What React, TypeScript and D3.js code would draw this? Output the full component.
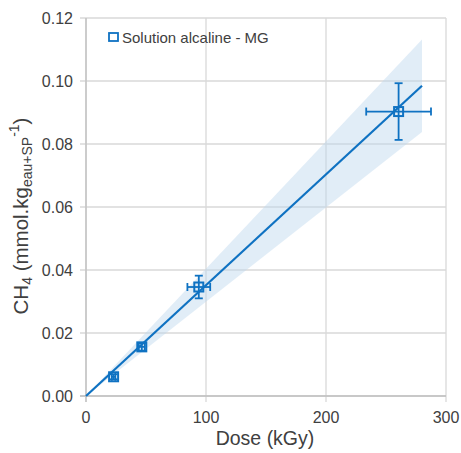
import React from "react";
import * as d3 from "d3";

const doses = [23, 46.5, 94, 260.5];
const ch4 = [0.0061, 0.0156, 0.0346, 0.0903];
const doseErr = [1.5, 2.5, 9.5, 27];
const ch4Err = [0.0008, 0.0012, 0.0036, 0.009];
const fitX = [0, 280];
const fitY = [0, 0.0985];
const bandUpper = [0, 0.1132];
const bandLower = [0, 0.0838];
const xTicks = [0, 100, 200, 300];
const yTicks = [0, 0.02, 0.04, 0.06, 0.08, 0.1, 0.12];
const legendLabel = "Solution alcaline - MG";

const W = 461, H = 453;
const left = 86, right = 446, top = 18, bottom = 396;
const blue = "#0F72C2";
const font = "Liberation Sans, Arial, sans-serif";
const txt = "#404040";

export default function App() {
  const x = d3.scaleLinear().domain([0, 300]).range([left, right]);
  const y = d3.scaleLinear().domain([0, 0.12]).range([bottom, top]);
  const band = d3.area<number>()
    .x((_, i) => x(fitX[i]))
    .y0((_, i) => y(bandLower[i]))
    .y1((_, i) => y(bandUpper[i]));
  const line = d3.line<number>().x((_, i) => x(fitX[i])).y((d) => y(d));
  const cap = 4;
  const ms = 9;
  return (
    <svg width={W} height={H} style={{ position: "absolute", left: 0, top: 0, background: "#fff" }} fontFamily={font}>
      {yTicks.map((t) => (
        <line key={"gy" + t} x1={left - 6} x2={right} y1={y(t)} y2={y(t)} stroke="#D9D9D9" strokeWidth={1.3} />
      ))}
      {xTicks.map((t) => (
        <line key={"gx" + t} x1={x(t)} x2={x(t)} y1={top} y2={bottom + 6} stroke="#D9D9D9" strokeWidth={1.3} />
      ))}
      <line x1={left} x2={left} y1={top} y2={bottom + 6} stroke="#BFBFBF" strokeWidth={1.3} />
      <line x1={left - 6} x2={right} y1={bottom} y2={bottom} stroke="#BFBFBF" strokeWidth={1.3} />
      <path d={band(fitX) || ""} fill="#BDD7EE" fillOpacity={0.45} />
      <path d={line(fitY) || ""} stroke={blue} strokeWidth={2.2} fill="none" />
      {doses.map((d, i) => {
        const cx = x(d), cy = y(ch4[i]);
        const x0 = x(d - doseErr[i]), x1 = x(d + doseErr[i]);
        const y0 = y(ch4[i] - ch4Err[i]), y1 = y(ch4[i] + ch4Err[i]);
        return (
          <g key={i} stroke={blue} strokeWidth={1.8}>
            <line x1={x0} x2={x1} y1={cy} y2={cy} />
            <line x1={x0} x2={x0} y1={cy - cap} y2={cy + cap} />
            <line x1={x1} x2={x1} y1={cy - cap} y2={cy + cap} />
            <line x1={cx} x2={cx} y1={y0} y2={y1} />
            <line x1={cx - cap} x2={cx + cap} y1={y0} y2={y0} />
            <line x1={cx - cap} x2={cx + cap} y1={y1} y2={y1} />
            <rect x={cx - ms / 2} y={cy - ms / 2} width={ms} height={ms} fill="none" strokeWidth={2} />
          </g>
        );
      })}
      {yTicks.map((t) => (
        <text key={"ty" + t} x={left - 13} y={y(t)} dy="0.36em" textAnchor="end" fontSize={16} fill={txt}>
          {t.toFixed(2)}
        </text>
      ))}
      {xTicks.map((t) => (
        <text key={"tx" + t} x={x(t)} y={bottom + 27} textAnchor="middle" fontSize={16} fill={txt}>
          {t}
        </text>
      ))}
      <text x={265} y={445} textAnchor="middle" fontSize={19.5} fill={txt}>Dose (kGy)</text>
      <text transform={`translate(28, 216) rotate(-90)`} textAnchor="middle" fontSize={20.5} fill={txt}>
        CH<tspan fontSize={14} dy={4}>4</tspan>
        <tspan dy={-4}> (mmol.kg</tspan>
        <tspan fontSize={14} dy={4}>eau+SP</tspan>
        <tspan fontSize={14} dy={-13}>-1</tspan>
        <tspan dy={9}>)</tspan>
      </text>
      <rect x={109} y={33} width={9} height={8} fill="none" stroke={blue} strokeWidth={1.8} />
      <text x={122} y={42.5} fontSize={15} fill={txt}>{legendLabel}</text>
    </svg>
  );
}
